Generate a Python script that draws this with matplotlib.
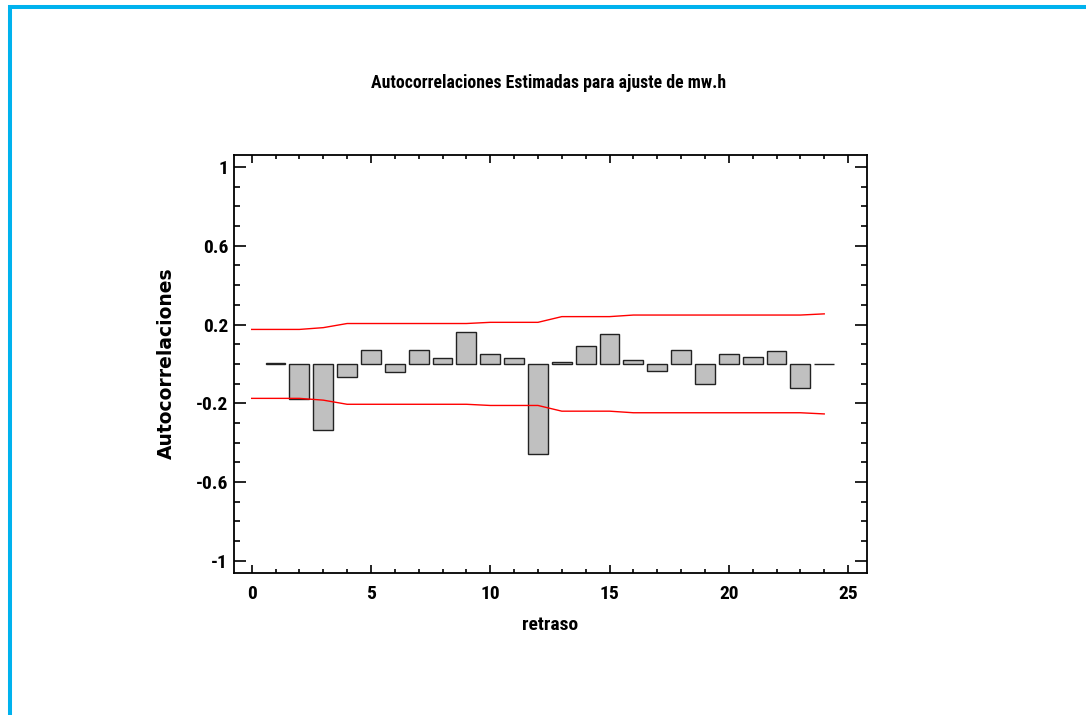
import matplotlib
matplotlib.use("Agg")
import matplotlib.pyplot as plt
from matplotlib import font_manager
from matplotlib.font_manager import FontProperties
from matplotlib.lines import Line2D
from matplotlib.ticker import MultipleLocator, FixedLocator

# ---- data ----
lags = list(range(1, 25))
autocorr = [0.006, -0.178, -0.338, -0.069, 0.069, -0.040, 0.069, 0.029, 0.162,
            0.049, 0.029, -0.455, 0.008, 0.091, 0.153, 0.020, -0.035, 0.071,
            -0.104, 0.051, 0.035, 0.064, -0.124, 0.002]
limit_lags = list(range(0, 25))
upper_limit = [0.175, 0.175, 0.175, 0.184, 0.205, 0.205, 0.205, 0.205, 0.205,
               0.205, 0.211, 0.211, 0.211, 0.240, 0.240, 0.240, 0.248, 0.248,
               0.248, 0.248, 0.248, 0.248, 0.248, 0.248, 0.254]
lower_limit = [-v for v in upper_limit]
y_ticks = [-1, -0.6, -0.2, 0.2, 0.6, 1]
y_ticklabels = ["-1", "-0.6", "-0.2", "0.2", "0.6", "1"]
x_ticks = [0, 5, 10, 15, 20, 25]
x_ticklabels = ["0", "5", "10", "15", "20", "25"]
title = "Autocorrelaciones Estimadas para ajuste de mw.h"
xlabel = "retraso"
ylabel = "Autocorrelaciones"


# ---- pick a condensed bold font if one is installed ----
def _is_bold(f):
    w = f.weight
    if isinstance(w, str):
        return w.lower() in ("bold", "heavy", "black", "extra bold", "semibold", "demibold")
    return w >= 600


def _is_narrow(f):
    s = (f.name + " " + f.fname).lower()
    st = f.stretch
    st_ok = isinstance(st, str) and "condensed" in st.lower()
    if isinstance(st, (int, float)) and st < 500:
        st_ok = True
    return "narrow" in s or "condensed" in s or st_ok


prefs = ["liberation sans narrow", "arial narrow", "roboto condensed", "open sans condensed",
         "noto sans", "dejavu sans", "lato", "inter"]
cands = [f for f in font_manager.fontManager.ttflist
         if _is_bold(f) and _is_narrow(f) and "italic" not in f.fname.lower()
         and f.style == "normal"]


def _rank(f):
    n = f.name.lower()
    for i, p in enumerate(prefs):
        if n.startswith(p):
            return i
    return len(prefs)


cands.sort(key=_rank)
if cands:
    narrow_fp = FontProperties(fname=cands[0].fname)
    narrow_found = True
else:
    narrow_fp = FontProperties(family="Liberation Sans", weight="bold")
    narrow_found = False

W, H = 1086, 715
fig = plt.figure(figsize=(10.86, 7.15), dpi=100)
fig.patch.set_facecolor("white")

# blue frame lines (left and top)
fig.add_artist(Line2D([10.3 / W, 10.3 / W], [0, 1 - 5.0 / H], transform=fig.transFigure,
                      color="#00B2EE", lw=2.9, solid_capstyle="butt"))
fig.add_artist(Line2D([8.3 / W, 1], [1 - 7.0 / H, 1 - 7.0 / H], transform=fig.transFigure,
                      color="#00B2EE", lw=2.9, solid_capstyle="butt"))

ax = fig.add_axes([233.7 / W, 1 - 572.7 / H, (866.7 - 233.7) / W, (572.7 - 154.7) / H])
ax.bar(lags, autocorr, width=0.83, color="#C0C0C0", edgecolor="#222222", linewidth=1.0, zorder=2)
ax.plot(limit_lags, upper_limit, color="#FF0000", lw=1.0, zorder=3)
ax.plot(limit_lags, lower_limit, color="#FF0000", lw=1.0, zorder=3)

ax.set_xlim(-0.754, 25.78)
ax.set_ylim(-1.06, 1.062)

ax.xaxis.set_major_locator(FixedLocator(x_ticks))
ax.set_xticklabels(x_ticklabels)
ax.xaxis.set_minor_locator(MultipleLocator(1))
ax.yaxis.set_major_locator(FixedLocator(y_ticks))
ax.set_yticklabels(y_ticklabels)
ax.yaxis.set_minor_locator(MultipleLocator(0.1))

ax.tick_params(axis="y", which="major", direction="in", length=8.6, width=1.2,
               left=True, right=True, pad=4)
ax.tick_params(axis="y", which="minor", direction="in", length=4.4, width=1.2,
               left=True, right=True)
ax.tick_params(axis="x", which="major", direction="in", length=5.8, width=1.2,
               bottom=True, top=True, pad=9)
ax.tick_params(axis="x", which="minor", direction="in", length=2.7, width=1.2,
               bottom=True, top=True)
for sp in ax.spines.values():
    sp.set_linewidth(1.3)

tick_size = 14 if narrow_found else 13
for lbl in ax.get_xticklabels() + ax.get_yticklabels():
    lbl.set_fontproperties(narrow_fp)
    lbl.set_fontsize(tick_size)

xl = ax.set_xlabel(xlabel, labelpad=9)
xl.set_fontproperties(narrow_fp)
xl.set_fontsize(14 if narrow_found else 13)

fig.text(166 / W, 1 - 363 / H, ylabel, rotation=90, ha="center", va="center",
         family=["DejaVu Sans"], fontweight="bold", fontsize=13.5)
t = fig.text(549 / W, 1 - 83 / H, title, ha="center", va="center")
t.set_fontproperties(narrow_fp)
t.set_fontsize(14)

# adjust title size so that its width matches the reference (~357 px)
fig.canvas.draw()
r = fig.canvas.get_renderer()
w = t.get_window_extent(r).width
if w > 0:
    t.set_fontsize(14 * 357.0 / w)

fig.savefig("out.png", dpi=100, facecolor="white")
